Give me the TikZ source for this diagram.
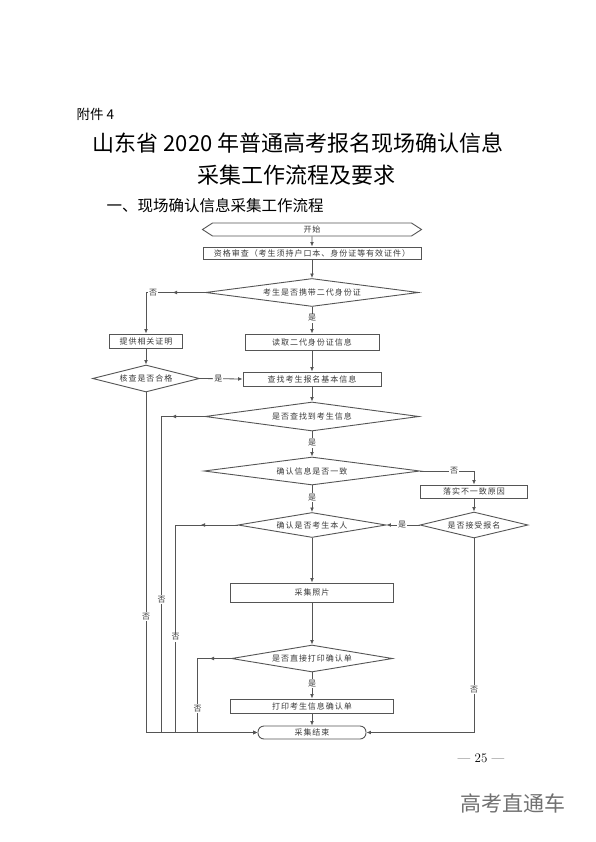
\documentclass[tikz,border=0pt]{standalone}
\usepackage{fontspec}
\newfontfamily\cjk{Noto Sans CJK SC}
\newfontfamily\cjkflow{Noto Sans CJK SC}[LetterSpace=12]
\usetikzlibrary{shapes.geometric,shapes.symbols,arrows.meta,decorations.markings}

\definecolor{linegray}{HTML}{555555}
\definecolor{textgray}{HTML}{3A3A3A}
\definecolor{brandgray}{HTML}{707070}

\tikzset{
  box/.style={draw=linegray, line width=0.9pt, rectangle, inner sep=0pt,
    font=\cjkflow\fontsize{8}{9}\selectfont, text=textgray},
  decision/.style={box, diamond, aspect=6},
  terminal/.style={box, rounded corners=6pt},
  flow/.style={color=linegray, line width=0.8pt, -{Latex[length=4.5pt,width=3.8pt]}},
  lab/.style={fill=white, inner sep=1pt, font=\cjkflow\fontsize{8}{9}\selectfont, text=textgray},
  midarrow/.style={postaction={decorate}, decoration={markings,
    mark=at position #1 with {\arrow{Latex[length=4.5pt,width=3.8pt]}}}},
}

\begin{document}
\begin{tikzpicture}[x=1pt, y=-1pt]

% page frame (A4 in pixels, y downwards)
\fill[white] (0,0) rectangle (596,842);
\useasboundingbox (0,0) rectangle (596,842);

% ---- heading ----
\node[anchor=west, font=\cjk\fontsize{13.5}{16}\selectfont] (annex) at (73,114) {附件 4};
\node[font=\cjk\fontsize{22}{26}\selectfont] (title1) at (298,143) {山东省 2020 年普通高考报名现场确认信息};
\node[font=\cjk\fontsize{22}{26}\selectfont] (title2) at (296,175) {采集工作流程及要求};
\node[anchor=west, font=\cjk\fontsize{15.5}{18}\selectfont] (section) at (103,206) {一、现场确认信息采集工作流程};

% ---- main column (x = 312) ----
\node[box, signal, signal to=west and east, signal pointer angle=66,
  minimum width=219pt, minimum height=13pt] (start) at (312,229.5) {开始};
\node[box, minimum width=218pt, minimum height=12pt] (check) at (312,253) {资格审查（考生须持户口本、身份证等有效证件）};
\node[decision, minimum width=213pt, minimum height=28pt] (idcard) at (312,292.5) {考生是否携带二代身份证};
\node[box, minimum width=134pt, minimum height=16pt] (read) at (312,342) {读取二代身份证信息};
\node[box, minimum width=138pt, minimum height=14pt] (find) at (312,379) {查找考生报名基本信息};
\node[decision, minimum width=214pt, minimum height=29pt] (found) at (312,416.5) {是否查找到考生信息};
\node[decision, minimum width=216pt, minimum height=28pt] (consist) at (312,471) {确认信息是否一致};
\node[decision, minimum width=148pt, minimum height=25pt] (self) at (312,525) {确认是否考生本人};
\node[box, minimum width=163pt, minimum height=19pt] (photo) at (312,592.5) {采集照片};
\node[decision, minimum width=161pt, minimum height=27pt] (direct) at (312,658.5) {是否直接打印确认单};
\node[box, minimum width=163pt, minimum height=14pt] (slip) at (312,706) {打印考生信息确认单};
\node[terminal, minimum width=108pt, minimum height=13pt] (stop) at (312,732.5) {采集结束};

% ---- side columns ----
\node[box, minimum width=73pt, minimum height=14pt] (proof) at (146,341) {提供相关证明};
\node[decision, minimum width=107pt, minimum height=27pt] (qual) at (146,378.5) {核查是否合格};
\node[box, minimum width=107pt, minimum height=13pt] (reason) at (474,491.5) {落实不一致原因};
\node[decision, minimum width=108pt, minimum height=26pt] (accept) at (474,525) {是否接受报名};

% ---- connectors ----
\draw[flow] (start) -- (check);
\draw[flow] (check) -- (idcard);
\draw[flow] (idcard) -- node[lab, pos=0.42] {是} (read);
\draw[flow] (read) -- (find);
\draw[flow] (find) -- (found);
\draw[flow] (found) -- node[lab, pos=0.46] {是} (consist);
\draw[flow] (consist) -- node[lab, pos=0.47] {是} (self);
\draw[flow] (self) -- (photo);
\draw[flow] (photo) -- (direct);
\draw[flow] (direct) -- node[lab, pos=0.41] {是} (slip);
\draw[flow] (slip) -- (stop);

% no ID card
\draw[flow, midarrow=32.5pt] (idcard.west) -| node[lab, pos=0.44] {否} (proof.north);
\draw[flow] (proof) -- (qual);
\draw[flow] (qual.east) -- node[lab, pos=0.43] {是} (find.west);
\draw[flow] (qual.south) |- node[lab, pos=0.33] {否} (stop.west);

% left returns to the end
\draw[flow, midarrow=33pt] (found.west) -- ++(-43,0) |- node[lab, pos=0.29] {否} (stop.west);
\draw[flow, midarrow=37pt] (self.west) -- ++(-62,0) |- node[lab, pos=0.27] {否} (stop.west);
\draw[flow, midarrow=21.5pt] (direct.west) -- ++(-33.5,0) |- node[lab, pos=0.34] {否} (stop.west);

% mismatch branch
\draw[flow] (consist.east) -| node[lab, pos=0.315] {否} (reason.north);
\draw[flow] (reason) -- (accept);
\draw[flow] (accept.west) -- node[lab, pos=0.53] {是} (self.east);
\draw[flow] (accept.south) |- node[lab, pos=0.39] {否} (stop.east);

% ---- footer ----
\node[font=\fontsize{13}{15}\selectfont] (pageno) at (481,758) {\textemdash\ 25 \textemdash};
\node[font=\cjk\fontsize{21}{24}\selectfont, text=brandgray] (brand) at (513,803) {高考直通车};

\end{tikzpicture}
\end{document}
